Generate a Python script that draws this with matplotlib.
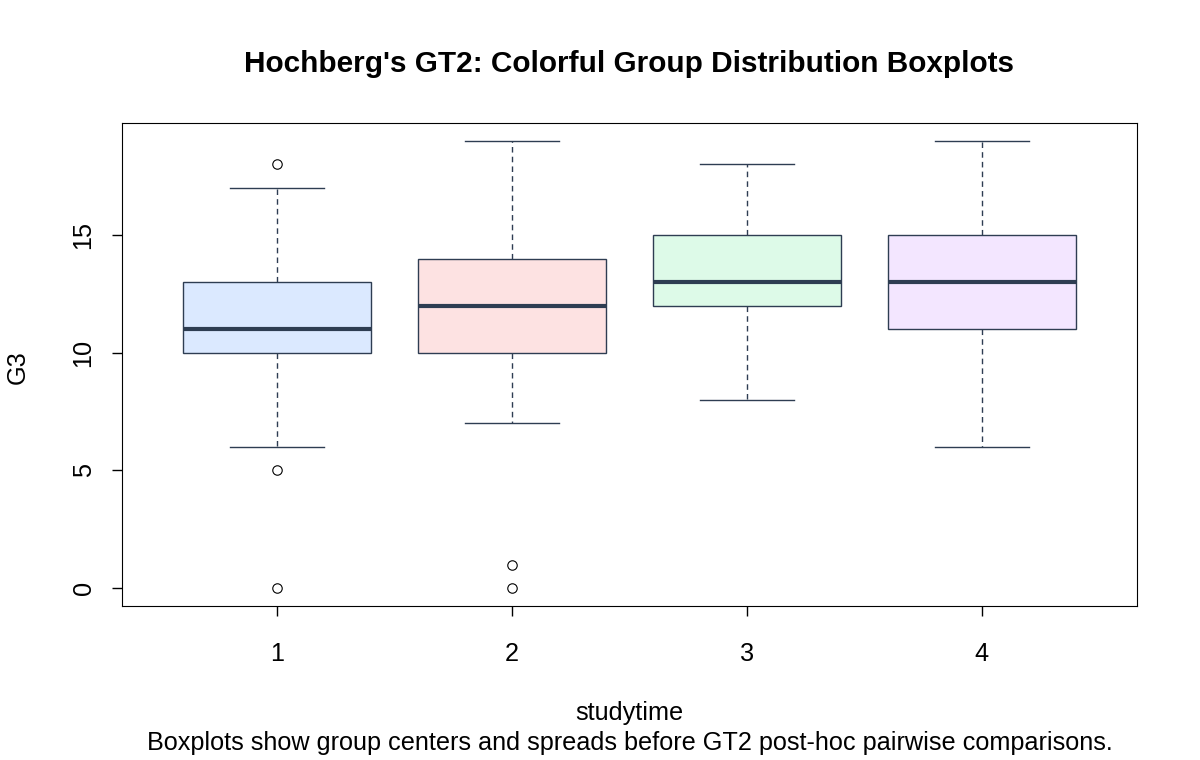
import matplotlib
matplotlib.use("Agg")
import matplotlib.pyplot as plt

plt.rcParams['font.family'] = ['Liberation Sans', 'DejaVu Sans']

groups = ["1", "2", "3", "4"]
whislo = [6, 7, 8, 6]
q1 = [10, 10, 12, 11]
med = [11, 12, 13, 13]
q3 = [13, 14, 15, 15]
whishi = [17, 19, 18, 19]
fliers = [[18, 5, 0], [1, 0], [], []]
fills = ["#DBE9FF", "#FDE2E2", "#DDFAE8", "#F3E6FF"]
line_col = "#2E3D52"
yticks = [0, 5, 10, 15]

FS = 18.2

fig = plt.figure(figsize=(12, 7.6), dpi=100)
ax = fig.add_axes([122/1200, 1 - 606/760, (1137-122)/1200, (606-123)/760])

stats = []
for i, g in enumerate(groups):
    stats.append(dict(label=g, whislo=whislo[i], q1=q1[i], med=med[i], q3=q3[i],
                      whishi=whishi[i], fliers=fliers[i]))

bp = ax.bxp(stats, positions=range(1, len(groups) + 1), widths=0.8,
            patch_artist=True, showfliers=True,
            boxprops=dict(edgecolor=line_col, linewidth=1.0),
            medianprops=dict(color=line_col, linewidth=3.0, solid_capstyle='butt'),
            whiskerprops=dict(color=line_col, linewidth=1.0, linestyle=(0, (4, 3))),
            capprops=dict(color=line_col, linewidth=1.0),
            flierprops=dict(marker='o', markerfacecolor='white', markeredgecolor='black',
                            markersize=6.8, markeredgewidth=0.8, linestyle='none'),
            capwidths=0.4)
for patch, c in zip(bp['boxes'], fills):
    patch.set_facecolor(c)

n = len(groups)
ax.set_xlim(0.5 - 0.04 * n, n + 0.5 + 0.04 * n)
ax.set_ylim(-0.76, 19.76)
ax.set_yticks(yticks)
ax.set_yticklabels([str(t) for t in yticks], rotation=90, va='center', fontsize=FS)
ax.set_xticks(range(1, n + 1))
ax.set_xticklabels(groups, fontsize=FS)
ax.tick_params(axis='both', direction='out', length=7, width=1, color='black')
ax.tick_params(axis='y', pad=12)
ax.tick_params(axis='x', pad=19)
for s in ax.spines.values():
    s.set_linewidth(0.8)
    s.set_color('black')

cx = 0.5 * (122 + 1137) / 1200
fig.text(cx, 1 - 64/760, "Hochberg's GT2: Colorful Group Distribution Boxplots",
         ha='center', va='center', fontsize=21.4, fontweight='bold')
fig.text(cx, 1 - 713/760, "studytime", ha='center', va='center', fontsize=FS)
fig.text(cx, 1 - 743/760,
         "Boxplots show group centers and spreads before GT2 post-hoc pairwise comparisons.",
         ha='center', va='center', fontsize=FS)
fig.text(18/1200, 1 - 367/760, "G3", ha='center', va='center', rotation=90, fontsize=FS)

fig.savefig("out.png", dpi=100)
